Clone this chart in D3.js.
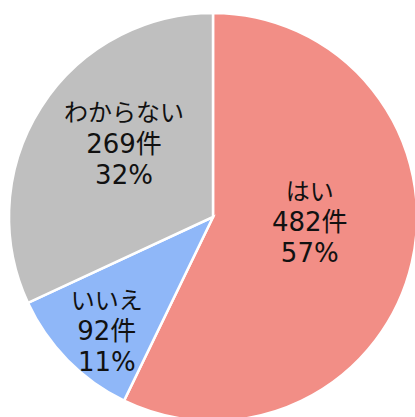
<!DOCTYPE html>
<html lang="ja">
  <head>
    <meta charset="utf-8">
    <title>はい / いいえ / わからない</title>
    <script src="https://d3js.org/d3.v7.min.js"></script>
    <style>
      html, body {
        padding: 0;
        margin: 0;
        background: #fff;
      }
      svg {
        display: block;
      }
      .slice {
        stroke: #fff;
        stroke-width: 2.5;
      }
      .label text {
        font: 26px "DejaVu Sans", "Noto Sans CJK JP", sans-serif;
        fill: #111;
        text-anchor: middle;
      }
      .label text.name {
        font-size: 24px;
      }
    </style>
  </head>
  <body>
    <div id="chart"></div>
    <script>
      var categories = ["はい", "いいえ", "わからない"];
      var counts = [482, 92, 269];
      var percentLabels = ["57%", "11%", "32%"];
      var colors = ["#f28e86", "#8fb7f8", "#bfbfbf"];

      var width = 415,
          height = 417,
          cx = 213,
          cy = 217,
          radius = 204;

      // where Excel put each label: fraction of radius, and angle shift (deg) from slice middle
      var labelLayout = [
        {r: 0.475, shift: -9.9},
        {r: 0.765, shift: -2.6},
        {r: 0.565, shift: 6.9}
      ];

      var data = categories.map(function(c, i) {
        return {name: c, value: counts[i], pct: percentLabels[i], color: colors[i], i: i};
      });

      var svg = d3.select("#chart").append("svg")
          .attr("width", width)
          .attr("height", height)
        .append("g")
          .attr("transform", "translate(" + cx + "," + cy + ")");

      var pie = d3.pie()
          .sort(null)
          .value(function(d) { return d.value; });

      var arc = d3.arc()
          .innerRadius(0)
          .outerRadius(radius);

      var arcs = pie(data);

      svg.selectAll(".slice")
          .data(arcs)
        .enter().append("path")
          .attr("class", "slice")
          .attr("d", arc)
          .attr("fill", function(d) { return d.data.color; });

      var lineH = 31;

      var label = svg.selectAll(".label")
          .data(arcs)
        .enter().append("g")
          .attr("class", "label")
          .attr("transform", function(d) {
            var lay = labelLayout[d.data.i];
            var a = (d.startAngle + d.endAngle) / 2 + lay.shift * Math.PI / 180;
            var r = radius * lay.r;
            return "translate(" + (Math.sin(a) * r) + "," + (-Math.cos(a) * r) + ")";
          });

      label.each(function(d) {
        var g = d3.select(this);
        var lines = [d.data.name, d.data.value + "件", d.data.pct];
        lines.forEach(function(t, k) {
          g.append("text")
            .attr("class", k == 0 ? "name" : null)
            .attr("y", (k - 1) * lineH)
            .attr("dy", "0.35em")
            .text(t);
        });
      });
    </script>
  </body>
</html>
